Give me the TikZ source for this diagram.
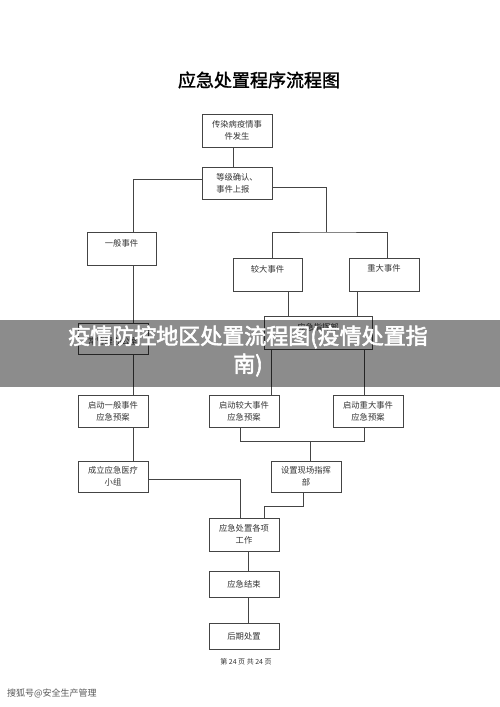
\documentclass[tikz,border=0pt]{standalone}
\usepackage{fontspec}
\setmainfont{Noto Sans CJK SC}
\newfontfamily\cjkbold{Noto Sans CJK SC}[FakeBold=1.5]
\newfontfamily\cjkheavy{Noto Sans CJK SC}[FakeBold=2.5]
\usetikzlibrary{calc}
\definecolor{linec}{HTML}{444444}
\definecolor{textc}{HTML}{333333}
\tikzset{
  box/.style={draw=linec, line width=0.9pt, fill=white, align=center, text=textc,
     font=\fontsize{8.3}{12}\selectfont, inner sep=0pt},
  conn/.style={draw=linec, line width=0.9pt},
}
\begin{document}
\begin{tikzpicture}[x=1pt,y=-1pt]
\useasboundingbox (0,0) rectangle (500,707);
\fill[white] (0,0) rectangle (500,707);
% title
\node[font=\cjkbold\fontsize{18}{20}\selectfont, text=black] (title) at (259,80) {应急处置程序流程图};
% boxes
\node[box, minimum width=70, minimum height=33] (top) at (237,130.5) {传染病疫情事\\件发生};
\node[box, minimum width=70, minimum height=32, align=left] (lvl) at (237,183) {等级确认、\\事件上报\hspace{1.2em}};
\node[box, minimum width=69, minimum height=33] (yiban) at (121.5,248.5) {一般事件\\~};
\node[box, minimum width=69, minimum height=33] (jiaoda) at (267.5,274.5) {较大事件\\~};
\node[box, minimum width=70, minimum height=33] (zhongda) at (384,274.5) {重大事件\\~};
\node[box, minimum width=108, minimum height=33] (zhihui) at (318,332.5) {应急指挥部\\~};
\node[box, minimum width=70, minimum height=31] (office) at (113,338.5) {~\\常管理办公室};
\node[box, minimum width=70, minimum height=32] (qd1) at (113,411) {启动一般事件\\应急预案};
\node[box, minimum width=70, minimum height=32] (qd2) at (244,411) {启动较大事件\\应急预案};
\node[box, minimum width=70, minimum height=32] (qd3) at (368,411) {启动重大事件\\应急预案};
\node[box, minimum width=70, minimum height=31] (yiliao) at (113,476.5) {成立应急医疗\\小组};
\node[box, minimum width=70, minimum height=31] (xianchang) at (306,476.5) {设置现场指挥\\部};
\node[box, minimum width=70, minimum height=33] (gexiang) at (244,534.5) {应急处置各项\\工作};
\node[box, minimum width=70, minimum height=26] (jieshu) at (244,584) {应急结束};
\node[box, minimum width=70, minimum height=26] (houqi) at (244,636) {后期处置};
% helper coordinates
\coordinate (split) at (326,232);
\coordinate (m2) at (310,441);
\coordinate (k) at (264,506);
% connectors
\draw[conn] ([xshift=-4pt]top.south) -- ([xshift=-4pt]lvl.north);
\draw[conn] ([yshift=4pt]lvl.west) -| ([xshift=11.5pt]yiban.north);
\draw[conn] ([yshift=-4pt]lvl.east) -| (split);
\draw[conn] ([xshift=4.5pt]jiaoda.north) |- (split) -| ([xshift=3pt]zhongda.north);
\draw[conn] ([xshift=20.5pt]jiaoda.south) -- ([xshift=20.5pt]jiaoda.south |- zhihui.north);
\draw[conn] ([xshift=-27pt]zhongda.south) -- ([xshift=-27pt]zhongda.south |- zhihui.north);
\draw[conn] ([xshift=11.5pt]yiban.south) -- ([xshift=20pt]office.north);
\draw[conn] ([xshift=20pt]office.south) -- ([xshift=20pt]qd1.north);
\draw[conn] ([xshift=-47pt]zhihui.south) -- ([xshift=27pt]qd2.north);
\draw[conn] ([xshift=46pt]zhihui.south) -- ([xshift=-4pt]qd3.north);
\draw[conn] ([xshift=-4pt]qd2.south) |- ([xshift=-4pt]qd3.south |- m2) -- ([xshift=-4pt]qd3.south);
\draw[conn] (m2) -- (m2 |- xianchang.north);
\draw[conn] ([xshift=20pt]qd1.south) -- ([xshift=20pt]yiliao.north);
\draw[conn] ([yshift=-2.5pt]yiliao.east) -| ([xshift=-4pt]gexiang.north);
\draw[conn] ([xshift=-3pt]xianchang.south) |- (k) -- (k |- gexiang.north);
\draw[conn] ([xshift=4pt]gexiang.south) -- ([xshift=4pt]jieshu.north);
\draw[conn] ([xshift=4pt]jieshu.south) -- ([xshift=4pt]houqi.north);
% page number
\node[font=\fontsize{7}{8}\selectfont, text=textc] (page) at (246,662) {第 24 页 共 24 页};
% banner
\fill[black, opacity=0.45] (0,320) rectangle (500,387);
\node[font=\cjkheavy\fontsize{22}{28}\selectfont, text=white, align=center] (banner) at (248,351) {疫情防控地区处置流程图(疫情处置指\\南)};
% source
\node[font=\fontsize{9}{10}\selectfont, text=black!65, anchor=west, inner sep=0pt] (src) at (7,693) {搜狐号@安全生产管理};
\end{tikzpicture}
\end{document}
